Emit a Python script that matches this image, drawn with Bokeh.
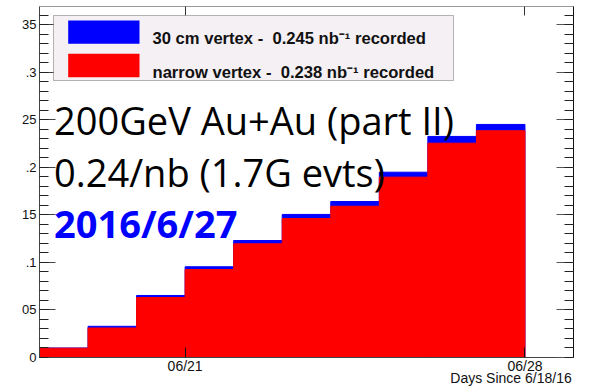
import numpy as np
from bokeh.plotting import figure
from bokeh.models import (FixedTicker, LinearAxis, Label, BoxAnnotation, Range1d,
                          CustomLabelingPolicy)
from bokeh.embed import file_html
from bokeh.resources import INLINE

# ---------------- data ----------------
day_start = [0, 1, 2, 3, 4, 5, 6, 7, 8, 9, 10]          # days since 6/18/16 (bin low edges)
lumi_30cm = [0.0100, 0.0328, 0.0652, 0.0954, 0.1230, 0.1504, 0.1640, 0.1948, 0.2324, 0.2450, 0.0]
lumi_narrow = [0.0098, 0.0310, 0.0631, 0.0925, 0.1195, 0.1460, 0.1590, 0.1896, 0.2253, 0.2384, 0.0]

x_ticks = [3, 10]
x_tick_labels = ["06/21", "06/28"]
y_ticks = [0, 0.05, 0.1, 0.15, 0.2, 0.25, 0.3, 0.35]
# the reference crops the left part of these labels (0.05 -> "05", 0.3 -> ".3", ...)
y_tick_labels = ["0", "05", ".1", "15", ".2", "25", ".3", "35"]
y_minor_ticks = [round(0.01 * i, 2) for i in range(37)]

legend_labels = ["30 cm vertex -\u00a0 0.245 nb\u207b\u00b9 recorded",
                 "narrow vertex -\u00a0 0.238 nb\u207b\u00b9 recorded"]
legend_colors = ["#0000ff", "#ff0000"]
note_lines = ["200GeV Au+Au (part II)", "0.24/nb (1.7G evts)", "2016/6/27"]
x_title = "Days Since 6/18/16"

# ---------------- layout constants ----------------
W, H = 600, 389
BL, BR, BT, BB = 39, 27, 6, 32
X0, X1 = 0, 11
Y0, Y1 = 0, 0.369
FW, FH = W - BL - BR, H - BT - BB


def xd(px):  # canvas pixel -> data x
    return X0 + (px - BL) / FW * (X1 - X0)


def yd(py):  # canvas pixel -> data y
    return Y0 + (H - BB - py) / FH * (Y1 - Y0)


p = figure(width=W, height=H, x_range=Range1d(X0, X1), y_range=Range1d(Y0, Y1),
           output_backend="svg", toolbar_location=None,
           min_border_left=BL, min_border_right=BR, min_border_top=BT, min_border_bottom=BB,
           background_fill_color="white", border_fill_color="white")
p.grid.visible = False
p.outline_line_color = None

left = day_start
right = [d + 1 for d in day_start]
p.quad(left=left, right=right, bottom=0, top=lumi_30cm, fill_color=legend_colors[0],
       line_color=legend_colors[0], line_width=1)
p.quad(left=left, right=right, bottom=0, top=lumi_narrow, fill_color=legend_colors[1],
       line_color=legend_colors[1], line_width=1)
zero_l = [l for l, v in zip(left, lumi_narrow) if v == 0]
zero_r = [r for r, v in zip(right, lumi_narrow) if v == 0]
p.segment(x0=zero_l, x1=zero_r, y0=0, y1=0, line_color="#ff6060", line_width=1)

LBL_FONT = "Liberation Sans"
hide_all = CustomLabelingPolicy(code="""
for (const i of indices)
    indices.unset(i)
return indices
""")

# bottom axis
xa = p.xaxis[0]
xa.ticker = FixedTicker(ticks=x_ticks)
xa.major_label_overrides = dict(zip(x_ticks, x_tick_labels))
xa.major_tick_in = 10
xa.major_tick_out = 0
xa.minor_tick_in = 0
xa.minor_tick_out = 0
xa.major_label_standoff = 0
xa.major_label_text_font = LBL_FONT
xa.major_label_text_font_size = "14px"
xa.major_label_text_color = "#111111"
xa.axis_line_color = "#444444"
xa.major_tick_line_color = "#111111"

# second bottom axis carrying the axis title (right part of the x axis)
title_x = xd(510.5)
ta2 = LinearAxis(ticker=FixedTicker(ticks=[title_x]), major_label_overrides={title_x: x_title},
                 major_label_standoff=-7,
                 major_label_text_font=LBL_FONT, major_label_text_font_size="14px",
                 major_label_text_line_height=0.75,
                 major_label_text_color="#111111",
                 major_tick_in=0, major_tick_out=0, minor_tick_in=0, minor_tick_out=0,
                 axis_line_color=None, major_tick_line_color=None, minor_tick_line_color=None)
p.add_layout(ta2, "below")

# left axis
ya = p.yaxis[0]
ya.ticker = FixedTicker(ticks=y_ticks, minor_ticks=y_minor_ticks)
ya.major_label_overrides = dict(zip(y_ticks, y_tick_labels))
ya.major_tick_in = 16
ya.major_tick_out = 0
ya.minor_tick_in = 9
ya.minor_tick_out = 0
ya.major_label_standoff = 3
ya.major_label_text_font = LBL_FONT
ya.major_label_text_font_size = "13px"
ya.major_label_text_color = "#111111"
ya.axis_line_color = "#444444"
ya.major_tick_line_color = "#444444"
ya.minor_tick_line_color = "#222222"

# right axis (ticks only)
ra = LinearAxis(ticker=FixedTicker(ticks=y_ticks, minor_ticks=y_minor_ticks),
                major_tick_in=17, major_tick_out=0, minor_tick_in=9, minor_tick_out=0,
                major_label_text_font_size="1px", major_label_standoff=0,
                major_label_policy=hide_all,
                axis_line_color="#111111", major_tick_line_color="#555555",
                minor_tick_line_color="#222222")
p.add_layout(ra, "right")

# top axis (ticks only)
ta = LinearAxis(ticker=FixedTicker(ticks=x_ticks), major_tick_in=9, major_tick_out=0,
                minor_tick_in=0, minor_tick_out=0,
                major_label_text_font_size="1px", major_label_standoff=0,
                major_label_policy=hide_all,
                axis_line_color="#999999", major_tick_line_color="#333333")
p.add_layout(ta, "above")

# legend box
p.add_layout(BoxAnnotation(left=xd(53), right=xd(453), top=yd(15), bottom=yd(80),
                           fill_color="#f4f0f4", fill_alpha=1.0, line_color="#111111", line_width=1))
row_top = [20, 53.3]
row_bot = [43.3, 76.7]
row_base = [38.3, 71.7]
for lab, col, t, b, base in zip(legend_labels, legend_colors, row_top, row_bot, row_base):
    p.add_layout(BoxAnnotation(left=xd(67.7), right=xd(139), top=yd(t), bottom=yd(b),
                               fill_color=col, fill_alpha=1.0, line_color=None))
    p.add_layout(Label(x=xd(152), y=yd(base), text=lab, text_baseline="alphabetic",
                       text_font=LBL_FONT, text_font_style="bold", text_font_size="16.6px",
                       text_color="#111111"))

# overlay notes
note_base = [119.3, 171, 222]
note_color = ["#000000", "#000000", "#0000ff"]
note_style = ["normal", "normal", "bold"]
for txt, base, col, sty in zip(note_lines, note_base, note_color, note_style):
    p.add_layout(Label(x=xd(53.5), y=yd(base), text=txt, text_baseline="alphabetic",
                       text_font="Open Sans", text_font_style=sty, text_font_size="38px",
                       text_color=col))

open("out.html", "w").write(file_html(p, INLINE))
